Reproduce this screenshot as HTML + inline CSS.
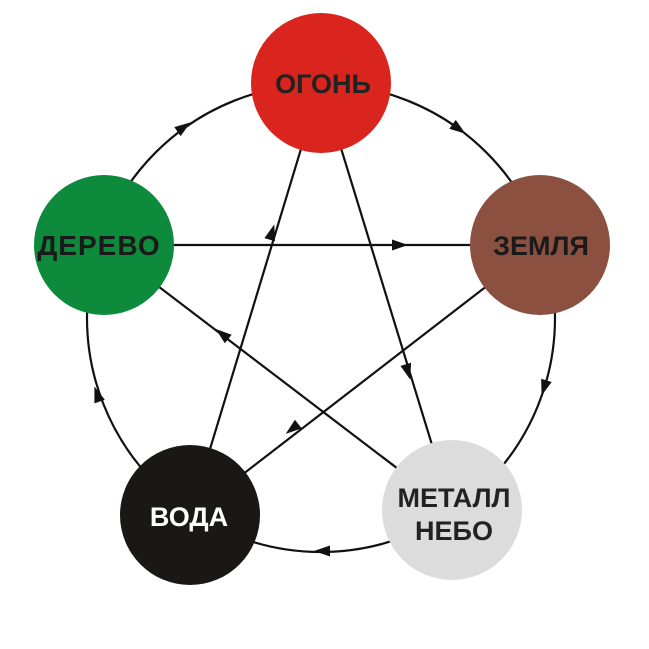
<!DOCTYPE html>
<html><head><meta charset="utf-8"><style>
html,body{margin:0;padding:0;background:#fff;width:649px;height:649px;overflow:hidden}
text{font-family:"Liberation Sans",sans-serif;font-weight:bold;font-size:27px;text-anchor:middle}
</style></head><body>
<svg width="649" height="649" viewBox="0 0 649 649" xmlns="http://www.w3.org/2000/svg">
<g stroke="#111" stroke-width="2.2" fill="none">
<circle cx="321" cy="318" r="234"/>
<line x1="321" y1="83" x2="452" y2="510"/>
<line x1="321" y1="83" x2="190" y2="515"/>
<line x1="104" y1="245" x2="540" y2="245"/>
<line x1="540" y1="245" x2="190" y2="515"/>
<line x1="452" y1="510" x2="104" y2="245"/>
</g>
<g fill="#111">
<polygon points="8,0 -8,-5.5 -8,5.5" transform="translate(184,127) rotate(-35)"/>
<polygon points="8,0 -8,-5.5 -8,5.5" transform="translate(459,129) rotate(36)"/>
<polygon points="8,0 -8,-5.5 -8,5.5" transform="translate(544,388) rotate(107.6)"/>
<polygon points="8,0 -8,-5.5 -8,5.5" transform="translate(322,551) rotate(180)"/>
<polygon points="8,0 -8,-5.5 -8,5.5" transform="translate(97,394) rotate(251)"/>
<polygon points="8,0 -8,-5.5 -8,5.5" transform="translate(408,372) rotate(73.9)"/>
<polygon points="8,0 -8,-5.5 -8,5.5" transform="translate(272,232) rotate(-73.2)"/>
<polygon points="8,0 -8,-5.5 -8,5.5" transform="translate(400,245)"/>
<polygon points="8,0 -8,-5.5 -8,5.5" transform="translate(292,429) rotate(142)"/>
<polygon points="8,0 -8,-5.5 -8,5.5" transform="translate(222,334) rotate(218.8)"/>
</g>
<circle cx="321" cy="83" r="70" fill="#d9251d"/>
<circle cx="104" cy="245" r="70" fill="#0d8a3c"/>
<circle cx="540" cy="245" r="70" fill="#8b5040"/>
<circle cx="190" cy="515" r="70" fill="#1a1717"/>
<circle cx="452" cy="510" r="70" fill="#dcdcdc"/>
<text x="323" y="93" fill="#222">ОГОНЬ</text>
<text x="99" y="255" fill="#1a1a1a" style="font-size:28px;letter-spacing:1px">ДЕРЕВО</text>
<text x="541" y="255" fill="#1a1a1a">ЗЕМЛЯ</text>
<text x="189" y="526" fill="#fff">ВОДА</text>
<text x="454" y="507" fill="#222">МЕТАЛЛ</text>
<text x="454" y="540" fill="#222">НЕБО</text>
</svg>
</body></html>
